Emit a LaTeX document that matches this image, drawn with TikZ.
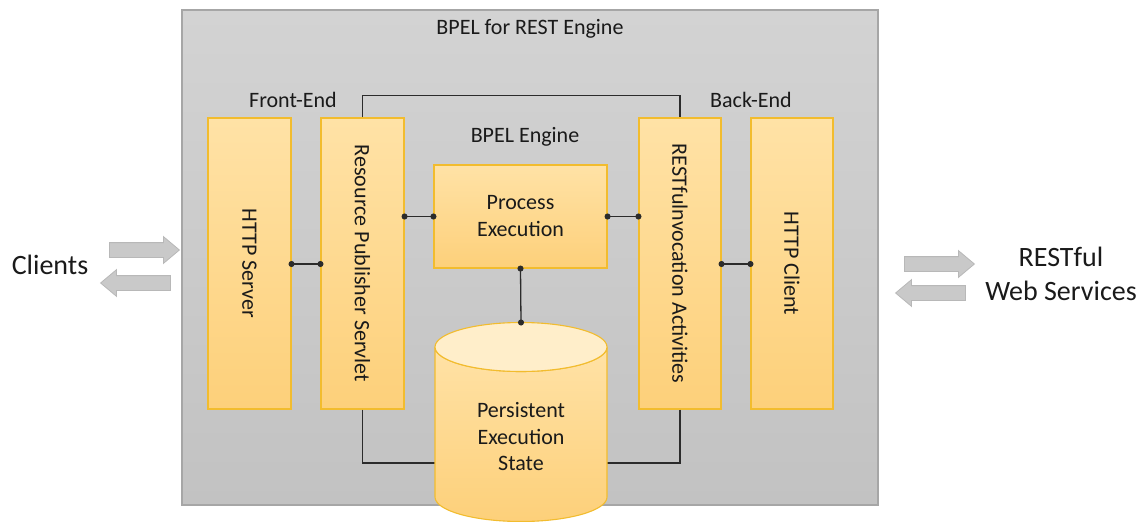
\documentclass[tikz,border=0pt]{standalone}
\usepackage{fontspec}
\setmainfont{Carlito}
\usetikzlibrary{arrows.meta,shapes.arrows}

\definecolor{boxline}{HTML}{F2BC2E}
\definecolor{boxtop}{HTML}{FFE2A6}
\definecolor{boxbot}{HTML}{FDD07A}
\definecolor{engtop}{HTML}{D3D3D3}
\definecolor{engbot}{HTML}{C2C2C2}
\definecolor{wirecol}{HTML}{2B2B2B}
\definecolor{txt}{HTML}{1A1A1A}

\begin{document}
\begin{tikzpicture}[x=1pt,y=-1pt,
	font=\fontsize{22}{27}\selectfont,text=txt,
	engine/.style={draw=black!35,line width=1.2pt,shading=axis,top color=engtop,bottom color=engbot,minimum width=696pt,minimum height=495pt,inner sep=0pt},
	block/.style={draw=boxline,line width=1.1pt,shading=axis,top color=boxtop,bottom color=boxbot,inner sep=0pt},
	tall/.style={block,minimum height=291pt},
	vlabel/.style={rotate=-90,align=center},
	wire/.style={draw=wirecol,line width=1.3pt},
	link/.style={wire,{Circle[length=6pt]}-{Circle[length=6pt]},shorten <=-3pt,shorten >=-3pt},
	flow/.style={single arrow,draw=black!28,fill=black!21,line width=0.8pt,minimum height=70pt,inner xsep=0pt,inner ysep=7pt,single arrow head extend=6pt,single arrow tip angle=80},
	big/.style={font=\fontsize{28}{34}\selectfont,align=center}]
	\useasboundingbox (0,0) rectangle (1144,522);
	
	% Define the engine frame and its titles
	\node[engine] (eng) at (530,257.5) {};
	\node (engt) at (530,29) {BPEL for REST Engine};
	\node (fe) at (293,100) {Front-End};
	\node (be) at (751,100) {Back-End};
	\node (bpel) at (525,137) {BPEL Engine};
	
	% Define the blocks
	\node[tall,minimum width=83pt] (hs) at (249.5,263.5) {};
	\node[vlabel] at (hs) {HTTP Server};
	\node[tall,minimum width=83pt] (rps) at (362.5,263.5) {};
	\node[vlabel] at (rps) {Resource Publisher Servlet};
	\node[block,minimum width=173pt,minimum height=103pt,align=center] (pe) at (520.5,216.5) {Process\\Execution};
	\node[tall,minimum width=82pt] (ria) at (680,263.5) {};
	\node[vlabel] at (ria) {RESTfulnvocation Activities};
	\node[tall,minimum width=82pt] (hc) at (792,263.5) {};
	\node[vlabel] at (hc) {HTTP Client};
	
	% Draw the loop round the BPEL engine
	\coordinate (dbl) at (435,463);
	\coordinate (dbr) at (607,463);
	\draw[wire] (rps.north) -- ++(0,-22) -| (ria.north);
	\draw[wire] (rps.south) |- (dbl);
	\draw[wire] (ria.south) |- (dbr);
	
	% Draw the persistent state cylinder
	\coordinate (dbtop) at (521,322.5);
	\path[block] (435,347) -- (435,497) arc[start angle=180,end angle=0,x radius=86,y radius=24.5] -- (607,347) arc[start angle=0,end angle=180,x radius=86,y radius=24.5] -- cycle;
	\draw[draw=boxline,line width=1.1pt,fill=boxtop!60!white] (521,347) ellipse[x radius=86,y radius=24.5];
	\node[align=center,font=\fontsize{22}{26.5}\selectfont] (db) at (521,437) {Persistent\\Execution\\State};
	
	% Draw the connections
	\draw[link] (hs.east |- 0,264) -- (rps.west |- 0,264);
	\draw[link] (rps.east |- pe.west) -- (pe.west);
	\draw[link] (pe.east) -- (ria.west |- pe.east);
	\draw[link] (ria.east |- 0,264) -- (hc.west |- 0,264);
	\draw[link] (pe.south) -- (dbtop);
	
	% Draw the outside parties
	\node[flow] (cin) at (140,250) {};
	\node[flow,shape border rotate=180] (cout) at (140,283) {};
	\node[big] (cl) at (50,265) {Clients};
	\node[flow] (win) at (935,264) {};
	\node[flow,shape border rotate=180] (wout) at (935,293) {};
	\node[big] (ws) at (1061,274) {RESTful\\Web Services};
\end{tikzpicture}
\end{document}
